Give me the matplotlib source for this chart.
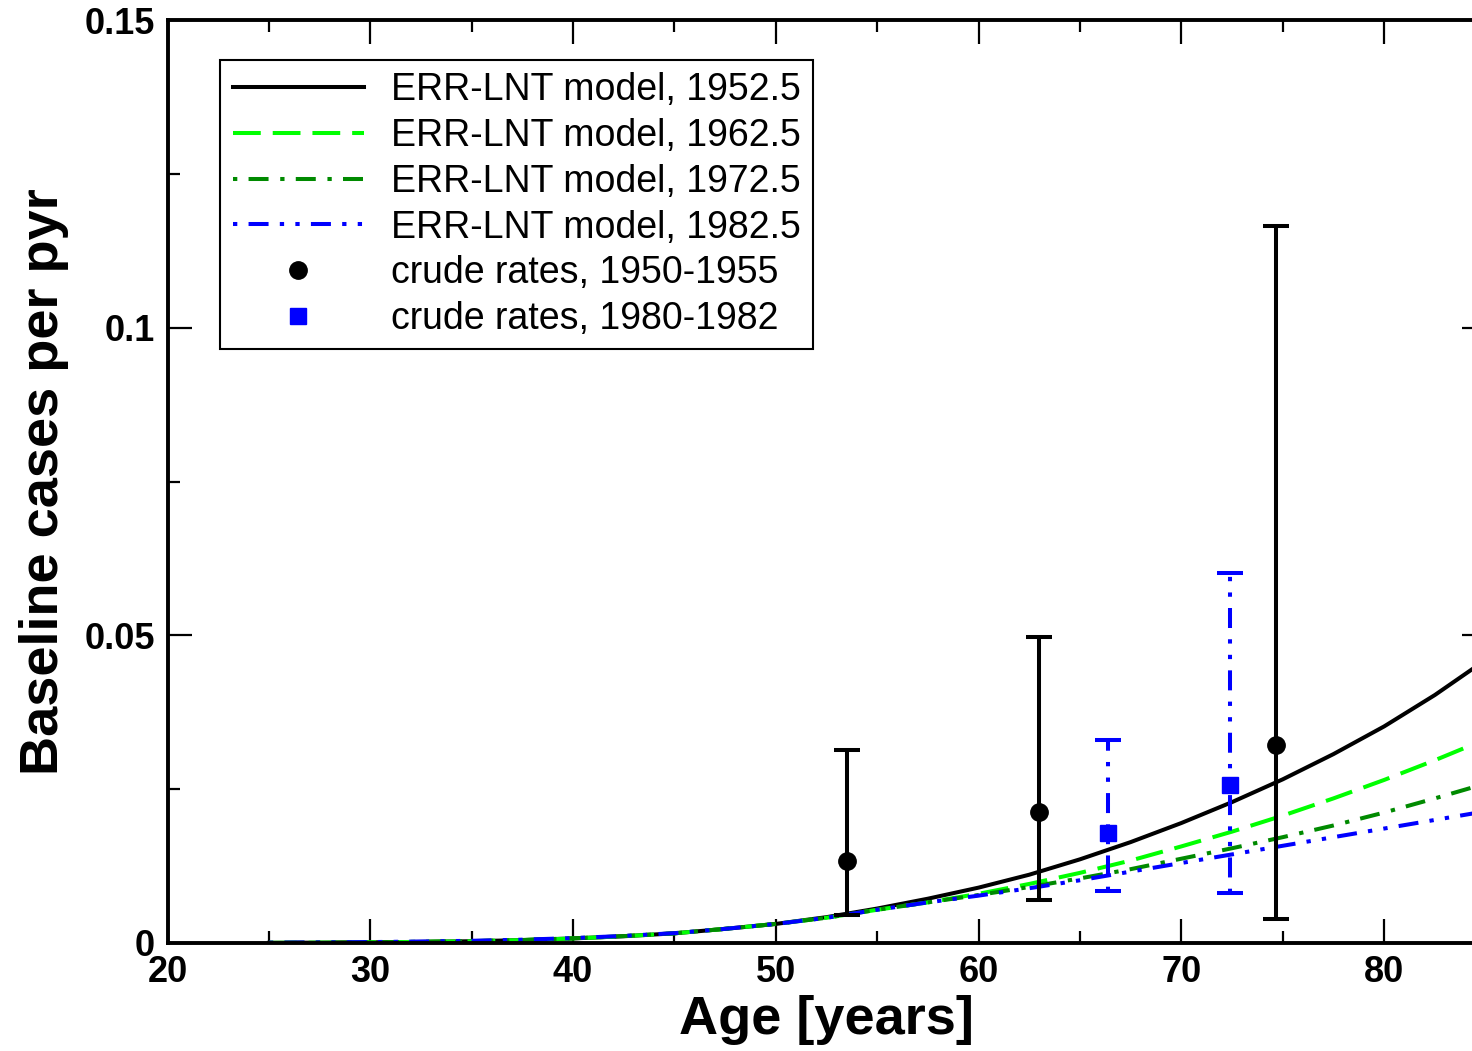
import matplotlib
matplotlib.use('Agg')
import matplotlib.pyplot as plt

# Model curves (ERR-LNT)
ages = [25, 27.5, 30, 32.5, 35, 37.5, 40, 42.5, 45, 47.5, 50, 52.5, 55,
        57.5, 60, 62.5, 65, 67.5, 70, 72.5, 75, 77.5, 80, 82.5, 85]
model_1952 = [0.00003, 0.00006, 0.00011, 0.00018, 0.00029, 0.00047, 0.00074,
              0.00110, 0.00157, 0.0023, 0.0031, 0.0042, 0.0056, 0.0072, 0.0090,
              0.0111, 0.0136, 0.0164, 0.0195, 0.0229, 0.0266, 0.0307, 0.0352,
              0.0403, 0.0460]
model_1962 = [0.00003, 0.00006, 0.00011, 0.00018, 0.00029, 0.00047, 0.00074,
              0.00110, 0.00157, 0.0023, 0.0031, 0.0041, 0.0054, 0.0066, 0.0080,
              0.0096, 0.0114, 0.0134, 0.0157, 0.0181, 0.0207, 0.0235, 0.0265,
              0.0297, 0.0331]
model_1972 = [0.00004, 0.00007, 0.00012, 0.00020, 0.00031, 0.00049, 0.00076,
              0.00112, 0.00158, 0.0023, 0.0031, 0.0041, 0.0054, 0.0066, 0.0078,
              0.0091, 0.0105, 0.0120, 0.0137, 0.0154, 0.0172, 0.0191, 0.0212,
              0.0235, 0.0259]
model_1982 = [0.00005, 0.00009, 0.00015, 0.00024, 0.00036, 0.00054, 0.00080,
              0.00115, 0.0016, 0.0023, 0.0031, 0.0041, 0.0054, 0.0066, 0.0077,
              0.0089, 0.0102, 0.0116, 0.0130, 0.0144, 0.0158, 0.0172, 0.0186,
              0.0200, 0.0214]

# Crude rates with error bars
crude_age_1950 = [53.5, 63.0, 74.65]
crude_rate_1950 = [0.0134, 0.0213, 0.0322]
crude_lo_1950 = [0.0046, 0.0070, 0.0039]
crude_hi_1950 = [0.0314, 0.0498, 0.1165]

crude_age_1980 = [66.4, 72.4]
crude_rate_1980 = [0.0179, 0.0257]
crude_lo_1980 = [0.0085, 0.0082]
crude_hi_1980 = [0.0330, 0.0601]

plt.rcParams['font.family'] = ['Liberation Sans', 'DejaVu Sans']
plt.rcParams['lines.scale_dashes'] = False

fig = plt.figure(figsize=(14.72, 10.51), dpi=100)
ax = fig.add_axes([0.1138, 0.10276, 0.8954, 0.8782])

lw = 2.9
dash_lime = (0, (20, 8.6))
dash_dot = (0, (3.1, 8.1, 14.4, 8.4))
dash_dotdot = (0, (3.1, 8.1, 14.4, 8.1, 3.1, 8.1))

ax.plot(ages, model_1952, color='black', lw=lw, label='ERR-LNT model, 1952.5')
ax.plot(ages, model_1962, color='#00ff00', lw=lw, ls=dash_lime, label='ERR-LNT model, 1962.5')
ax.plot(ages, model_1972, color='#008a00', lw=lw, ls=dash_dot, label='ERR-LNT model, 1972.5')
ax.plot(ages, model_1982, color='blue', lw=lw, ls=dash_dotdot, label='ERR-LNT model, 1982.5')

# error bars
err_1950 = [[r - lo for r, lo in zip(crude_rate_1950, crude_lo_1950)],
            [hi - r for r, hi in zip(crude_rate_1950, crude_hi_1950)]]
err_1980 = [[r - lo for r, lo in zip(crude_rate_1980, crude_lo_1980)],
            [hi - r for r, hi in zip(crude_rate_1980, crude_hi_1980)]]

ax.errorbar(crude_age_1950, crude_rate_1950, yerr=err_1950, fmt='none', ecolor='black',
            elinewidth=2.9, capsize=9.4, capthick=2.9, zorder=4)
eb = ax.errorbar(crude_age_1980, crude_rate_1980, yerr=err_1980, fmt='none', ecolor='blue',
                 elinewidth=2.9, capsize=9.4, capthick=2.9, zorder=4)
eb[2][0].set_linestyle(dash_dotdot)

ax.plot(crude_age_1950, crude_rate_1950, 'o', color='black', ms=12.5, zorder=5,
        label='crude rates, 1950-1955')
ax.plot(crude_age_1980, crude_rate_1980, 's', color='blue', ms=11, zorder=5,
        label='crude rates, 1980-1982')

# Axes formatting
ax.set_xlim(20, 85)
ax.set_ylim(0, 0.15)
ax.set_xticks([20, 30, 40, 50, 60, 70, 80])
ax.set_xticks([25, 35, 45, 55, 65, 75, 85], minor=True)
ax.set_yticks([0, 0.05, 0.1, 0.15], ['0', '0.05', '0.1', '0.15'])
ax.set_yticks([0.025, 0.075, 0.125], minor=True)
ax.tick_params(which='both', direction='in', top=True, right=True, width=1.6,
               labelsize=26, colors='black')
ax.tick_params(which='major', length=17)
ax.tick_params(which='minor', length=8.5)
ax.tick_params(axis='x', pad=9)
ax.tick_params(axis='y', pad=9)
for lab in ax.get_xticklabels() + ax.get_yticklabels():
    lab.set_fontweight('bold')
for sp in ax.spines.values():
    sp.set_linewidth(2.8)

ax.set_xlabel('Age [years]', fontsize=39, fontweight='bold')
ax.set_ylabel('Baseline cases per pyr', fontsize=39, fontweight='bold')
ax.xaxis.set_label_coords(0.5, -0.056)
ax.yaxis.set_label_coords(-0.075, 0.5)

leg = ax.legend(loc='upper left', bbox_to_anchor=(0.0402, 0.9567), borderaxespad=0,
                fontsize=27, handlelength=3.5, handletextpad=0.72, labelspacing=0.26,
                borderpad=0.33, numpoints=1, fancybox=False, framealpha=1,
                edgecolor='black')
leg.get_frame().set_linewidth(1.5)

fig.savefig('out.png', dpi=100)
